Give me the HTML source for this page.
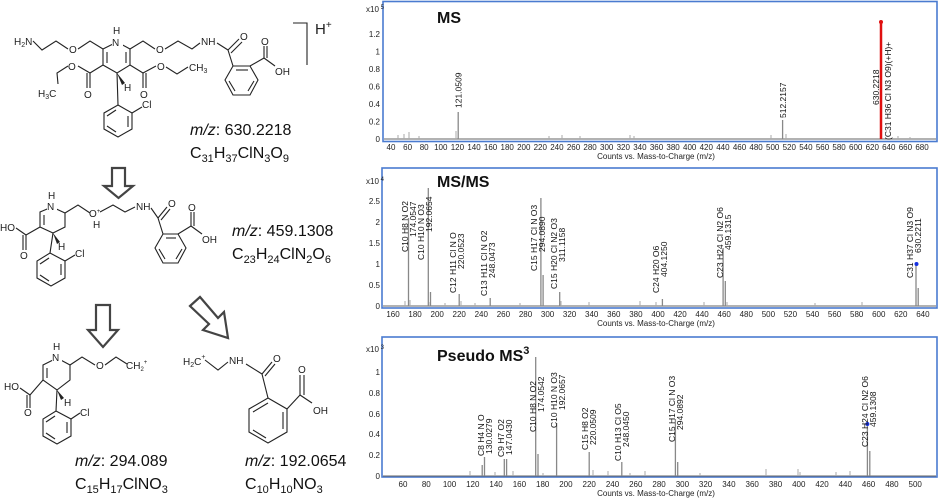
<!DOCTYPE html>
<html><head><meta charset="utf-8"><style>
html,body{margin:0;padding:0;background:#fff;}
svg{display:block;font-family:"Liberation Sans",Arial,sans-serif;}
.b{stroke:#222;stroke-width:1.1;fill:none;}
.at{font-size:10px;fill:#222;}
.tk{font-size:8px;fill:#222;text-anchor:middle;}
.yl{font-size:8px;fill:#222;text-anchor:end;}
.lb{font-size:8.5px;fill:#111;}
.pk{stroke:#888;stroke-width:1.3;}
.nz{stroke:#aaa;stroke-width:1;}
.bx{fill:none;stroke:#4a7bd0;stroke-width:1.6;}
.ar{fill:#fff;stroke:#444;stroke-width:2.2;}
</style></head><body>
<svg width="940" height="502" viewBox="0 0 940 502" xmlns="http://www.w3.org/2000/svg">

<!-- ===== Structure 1 ===== -->
<g>
<text class="at" x="14" y="45">H<tspan font-size="7" dy="2">2</tspan><tspan dy="-2">N</tspan></text>
<polyline class="b" points="33,41 42,50 56,41 68,49"/>
<text class="at" x="69" y="53">O</text>
<polyline class="b" points="78,49 90,41 103,49"/>
<polygon class="b" points="103,49 117,42 130,49 130,65 117,73 103,65"/>
<line class="b" x1="107" y1="52" x2="107" y2="63"/>
<line class="b" x1="126" y1="52" x2="126" y2="63"/>
<rect x="112" y="36" width="11" height="11" fill="#fff"/>
<text class="at" x="112" y="46">N</text>
<text class="at" x="113" y="34">H</text>
<polyline class="b" points="130,49 143,41 155,49"/>
<text class="at" x="156" y="53">O</text>
<polyline class="b" points="165,49 178,41 192,49 200,43"/>
<text class="at" x="201" y="45">NH</text>
<polyline class="b" points="217,43 228,50"/>
<line class="b" x1="228" y1="50" x2="239" y2="39"/><line class="b" x1="231" y1="53" x2="242" y2="42"/>
<text class="at" x="240" y="40">O</text>
<line class="b" x1="228" y1="50" x2="233" y2="66"/>
<polygon class="b" points="233,66 250,66 258,80 250,95 233,95 225,80"/>
<line class="b" x1="236" y1="70" x2="248" y2="70"/><line class="b" x1="229" y1="81" x2="235" y2="91"/><line class="b" x1="254" y1="81" x2="248" y2="91"/>
<line class="b" x1="250" y1="66" x2="264" y2="58"/>
<line class="b" x1="264" y1="58" x2="264" y2="46"/><line class="b" x1="267" y1="58" x2="267" y2="46"/>
<text class="at" x="261" y="45">O</text>
<line class="b" x1="264" y1="58" x2="275" y2="66"/>
<text class="at" x="275" y="75">OH</text>
<!-- esters -->
<polyline class="b" points="103,65 90,73"/>
<line class="b" x1="90" y1="73" x2="90" y2="88"/><line class="b" x1="87" y1="73" x2="87" y2="88"/>
<text class="at" x="84" y="98">O</text>
<polyline class="b" points="90,73 78,66"/>
<text class="at" x="68" y="70">O</text>
<polyline class="b" points="68,66 57,73 58,84"/>
<text class="at" x="38" y="97">H<tspan font-size="7" dy="2">3</tspan><tspan dy="-2">C</tspan></text>
<polyline class="b" points="130,65 143,73"/>
<line class="b" x1="143" y1="73" x2="143" y2="88"/><line class="b" x1="146" y1="73" x2="146" y2="88"/>
<text class="at" x="140" y="98">O</text>
<polyline class="b" points="143,73 156,66"/>
<text class="at" x="157" y="70">O</text>
<polyline class="b" points="166,67 177,74 188,67"/>
<text class="at" x="189" y="71">CH<tspan font-size="7" dy="2">3</tspan></text>
<polygon fill="#222" points="117,73 125,83 122,85"/>
<text class="at" x="124" y="91" font-size="8">H</text>
<line class="b" x1="117" y1="73" x2="118" y2="105"/>
<polygon class="b" points="118,105 132,113 132,129 118,137 104,129 104,113"/>
<line class="b" x1="128" y1="116" x2="128" y2="127"/><line class="b" x1="107" y1="116" x2="116" y2="110"/><line class="b" x1="107" y1="126" x2="116" y2="132"/>
<line class="b" x1="132" y1="113" x2="142" y2="107"/>
<text class="at" x="142" y="108">Cl</text>
<polyline class="b" points="293,23 307,23 307,65"/>
<text x="315" y="34" font-size="15" fill="#222">H<tspan font-size="10" dy="-6">+</tspan></text>
<text x="190" y="135" font-size="16" fill="#111"><tspan font-style="italic">m/z</tspan>: 630.2218</text>
<text x="190" y="158" font-size="16" fill="#111">C<tspan font-size="11" dy="4">31</tspan><tspan dy="-4">H</tspan><tspan font-size="11" dy="4">37</tspan><tspan dy="-4">ClN</tspan><tspan font-size="11" dy="4">3</tspan><tspan dy="-4">O</tspan><tspan font-size="11" dy="4">9</tspan></text>
</g>

<!-- arrow 1 -->
<polygon class="ar" points="112,168 125,168 125,186 133,186 118.5,198 104,186 112,186"/>

<!-- ===== Structure 2 ===== -->
<g>
<polygon class="b" points="40,212 52,207 65,213 65,227 53,233 40,227"/>
<line class="b" x1="44" y1="215" x2="44" y2="225"/>
<rect x="47" y="201" width="10" height="10" fill="#fff"/>
<text class="at" x="47" y="210" font-size="9">N</text>
<text class="at" x="48" y="199" font-size="8">H</text>
<line class="b" x1="40" y1="227" x2="26" y2="235"/>
<line class="b" x1="26" y1="235" x2="26" y2="250"/><line class="b" x1="23" y1="235" x2="23" y2="250"/>
<text class="at" x="20" y="259" font-size="8">O</text>
<line class="b" x1="26" y1="235" x2="16" y2="228"/>
<text class="at" x="0" y="231" font-size="8">HO</text>
<polygon fill="#222" points="53,233 60,242 57,244"/>
<text class="at" x="58" y="250" font-size="8">H</text>
<line class="b" x1="53" y1="233" x2="50" y2="253"/>
<polygon class="b" points="50,253 65,261 65,278 51,286 37,278 37,261"/>
<line class="b" x1="61" y1="264" x2="61" y2="275"/><line class="b" x1="40" y1="264" x2="49" y2="258"/><line class="b" x1="40" y1="275" x2="49" y2="281"/>
<line class="b" x1="65" y1="261" x2="75" y2="255"/>
<text class="at" x="75" y="257" font-size="8">Cl</text>
<polyline class="b" points="65,213 78,205 90,213"/>
<text class="at" x="89" y="217" font-size="9">O<tspan font-size="6" dy="-4">+</tspan></text>
<text class="at" x="93" y="228" font-size="8">H</text>
<polyline class="b" points="100,212 113,205 125,212 135,207"/>
<text class="at" x="136" y="210" font-size="9">NH</text>
<line class="b" x1="151" y1="208" x2="158" y2="218"/>
<line class="b" x1="158" y1="218" x2="167" y2="207"/><line class="b" x1="161" y1="220" x2="170" y2="209"/>
<text class="at" x="168" y="207" font-size="9">O</text>
<line class="b" x1="158" y1="218" x2="163" y2="234"/>
<polygon class="b" points="163,234 178,234 186,248 178,263 163,263 155,248"/>
<line class="b" x1="166" y1="238" x2="176" y2="238"/><line class="b" x1="159" y1="249" x2="165" y2="259"/><line class="b" x1="182" y1="249" x2="176" y2="259"/>
<line class="b" x1="178" y1="234" x2="191" y2="226"/>
<line class="b" x1="191" y1="226" x2="191" y2="212"/><line class="b" x1="194" y1="226" x2="194" y2="212"/>
<text class="at" x="188" y="211" font-size="9">O</text>
<line class="b" x1="191" y1="226" x2="202" y2="234"/>
<text class="at" x="202" y="243" font-size="9">OH</text>
<text x="232" y="236" font-size="16" fill="#111"><tspan font-style="italic">m/z</tspan>: 459.1308</text>
<text x="232" y="259" font-size="16" fill="#111">C<tspan font-size="11" dy="4">23</tspan><tspan dy="-4">H</tspan><tspan font-size="11" dy="4">24</tspan><tspan dy="-4">ClN</tspan><tspan font-size="11" dy="4">2</tspan><tspan dy="-4">O</tspan><tspan font-size="11" dy="4">6</tspan></text>
</g>

<!-- arrows 2 -->
<polygon class="ar" points="96,305 110,305 110,330 118,330 103,347 88,330 96,330"/>
<polygon class="ar" points="190,306 200,297 218,318 224,312 228,338 203,330 209,324"/>

<!-- ===== Structure 3 ===== -->
<g>
<polygon class="b" points="43,365 57,358 70,365 70,380 57,390 43,380"/>
<line class="b" x1="47" y1="368" x2="47" y2="378"/>
<rect x="52" y="352" width="10" height="10" fill="#fff"/>
<text class="at" x="52" y="361" font-size="9">N</text>
<text class="at" x="53" y="350" font-size="8">H</text>
<line class="b" x1="43" y1="380" x2="30" y2="395"/>
<line class="b" x1="30" y1="395" x2="30" y2="408"/><line class="b" x1="27" y1="395" x2="27" y2="408"/>
<text class="at" x="24" y="416" font-size="8">O</text>
<line class="b" x1="30" y1="395" x2="20" y2="388"/>
<text class="at" x="4" y="390" font-size="8">HO</text>
<polygon fill="#222" points="57,390 64,398 61,400"/>
<text class="at" x="64" y="406" font-size="8">H</text>
<line class="b" x1="57" y1="390" x2="56" y2="411"/>
<polygon class="b" points="56,411 71,419 71,436 57,444 43,436 43,419"/>
<line class="b" x1="67" y1="422" x2="67" y2="433"/><line class="b" x1="46" y1="422" x2="55" y2="416"/><line class="b" x1="46" y1="433" x2="55" y2="439"/>
<line class="b" x1="71" y1="419" x2="80" y2="413"/>
<text class="at" x="80" y="416" font-size="8">Cl</text>
<polyline class="b" points="70,365 82,357 95,365"/>
<text class="at" x="96" y="369" font-size="9">O</text>
<polyline class="b" points="105,365 116,357 127,364"/>
<text class="at" x="126" y="369" font-size="8">CH<tspan font-size="6" dy="2">2</tspan><tspan font-size="6" dy="-7">+</tspan></text>
<text x="75" y="466" font-size="16" fill="#111"><tspan font-style="italic">m/z</tspan>: 294.089</text>
<text x="75" y="489" font-size="16" fill="#111">C<tspan font-size="11" dy="4">15</tspan><tspan dy="-4">H</tspan><tspan font-size="11" dy="4">17</tspan><tspan dy="-4">ClNO</tspan><tspan font-size="11" dy="4">3</tspan></text>
</g>

<!-- ===== Structure 4 ===== -->
<g>
<text class="at" x="183" y="365">H<tspan font-size="7" dy="2">2</tspan><tspan dy="-2">C</tspan><tspan font-size="7" dy="-6">+</tspan></text>
<polyline class="b" points="205,360 218,370 228,362"/>
<text class="at" x="229" y="364">NH</text>
<line class="b" x1="246" y1="364" x2="262" y2="374"/>
<line class="b" x1="262" y1="374" x2="272" y2="362"/><line class="b" x1="265" y1="376" x2="275" y2="364"/>
<text class="at" x="273" y="362">O</text>
<line class="b" x1="262" y1="374" x2="268" y2="398"/>
<polygon class="b" points="268,398 287,409 287,432 268,443 249,432 249,409"/>
<line class="b" x1="253" y1="412" x2="268" y2="403"/><line class="b" x1="283" y1="412" x2="283" y2="429"/><line class="b" x1="266" y1="438" x2="253" y2="430"/>
<line class="b" x1="287" y1="409" x2="300" y2="395"/>
<line class="b" x1="300" y1="395" x2="300" y2="375"/><line class="b" x1="304" y1="395" x2="304" y2="375"/>
<text class="at" x="298" y="373">O</text>
<line class="b" x1="300" y1="395" x2="312" y2="403"/>
<text class="at" x="313" y="414" font-size="11">OH</text>
<text x="245" y="466" font-size="16" fill="#111"><tspan font-style="italic">m/z</tspan>: 192.0654</text>
<text x="245" y="489" font-size="16" fill="#111">C<tspan font-size="11" dy="4">10</tspan><tspan dy="-4">H</tspan><tspan font-size="11" dy="4">10</tspan><tspan dy="-4">NO</tspan><tspan font-size="11" dy="4">3</tspan></text>
</g>

<!-- ===== Panel 1: MS ===== -->
<g>
<rect class="bx" x="383" y="1.5" width="554" height="140"/>
<line x1="384" y1="139" x2="936" y2="139" stroke="#666" stroke-width="1"/>
<text x="366" y="12" font-size="8" fill="#222">x10<tspan font-size="6" dy="-3"> 5</tspan></text>
<text class="yl" x="380" y="142">0</text><text class="yl" x="380" y="124.5">0.2</text><text class="yl" x="380" y="107">0.4</text><text class="yl" x="380" y="89.5">0.6</text><text class="yl" x="380" y="72">0.8</text><text class="yl" x="380" y="54.5">1</text><text class="yl" x="380" y="37">1.2</text>
<g class="tk">
<text x="391" y="150">40</text><text x="407.6" y="150">60</text><text x="424.2" y="150">80</text><text x="440.8" y="150">100</text><text x="457.4" y="150">120</text><text x="474" y="150">140</text><text x="490.6" y="150">160</text><text x="507.2" y="150">180</text><text x="523.8" y="150">200</text><text x="540.3" y="150">220</text><text x="556.9" y="150">240</text><text x="573.5" y="150">260</text><text x="590.1" y="150">280</text><text x="606.7" y="150">300</text><text x="623.3" y="150">320</text><text x="639.9" y="150">340</text><text x="656.5" y="150">360</text><text x="673.1" y="150">380</text><text x="689.7" y="150">400</text><text x="706.3" y="150">420</text><text x="722.9" y="150">440</text><text x="739.5" y="150">460</text><text x="756.1" y="150">480</text><text x="772.7" y="150">500</text><text x="789.3" y="150">520</text><text x="805.9" y="150">540</text><text x="822.5" y="150">560</text><text x="839.1" y="150">580</text><text x="855.7" y="150">600</text><text x="872.3" y="150">620</text><text x="888.8" y="150">640</text><text x="905.4" y="150">660</text><text x="922" y="150">680</text>
<text x="656" y="159">Counts vs. Mass-to-Charge (m/z)</text>
</g>
<text x="437" y="23" font-size="16" font-weight="bold" fill="#111">MS</text>
<g class="nz"><line x1="398" y1="139" x2="398" y2="135"/><line x1="404" y1="139" x2="404" y2="134"/><line x1="409" y1="139" x2="409" y2="132"/><line x1="419" y1="139" x2="419" y2="136"/><line x1="456" y1="139" x2="456" y2="131"/><line x1="549" y1="139" x2="549" y2="136"/><line x1="562" y1="139" x2="562" y2="135"/><line x1="580" y1="139" x2="580" y2="136"/><line x1="630" y1="139" x2="630" y2="135"/><line x1="634" y1="139" x2="634" y2="136"/><line x1="771" y1="139" x2="771" y2="135"/><line x1="786" y1="139" x2="786" y2="134"/><line x1="898" y1="139" x2="898" y2="136"/><line x1="910" y1="139" x2="910" y2="137"/></g>
<line class="pk" x1="458.2" y1="139" x2="458.2" y2="112"/>
<line class="pk" x1="782.6" y1="139" x2="782.6" y2="120"/>
<line x1="881" y1="139" x2="881" y2="22" stroke="#e01010" stroke-width="2.5"/>
<circle cx="881" cy="22" r="2" fill="#e01010"/>
<text class="lb" transform="translate(461.5,108) rotate(-90)">121.0509</text>
<text class="lb" transform="translate(786,118) rotate(-90)">512.2157</text>
<text class="lb" transform="translate(879,105) rotate(-90)">630.2218</text>
<text class="lb" transform="translate(891,140) rotate(-90)">(C31 H36 Cl N3 O9)(+H)+</text>
</g>

<!-- ===== Panel 2: MS/MS ===== -->
<g>
<rect class="bx" x="382" y="168" width="555" height="140"/>
<line x1="383" y1="306" x2="936" y2="306" stroke="#666" stroke-width="1"/>
<text x="366" y="184" font-size="8" fill="#222">x10<tspan font-size="6" dy="-3"> 4</tspan></text>
<text class="yl" x="380" y="309">0</text><text class="yl" x="380" y="288">0.5</text><text class="yl" x="380" y="267">1</text><text class="yl" x="380" y="246">1.5</text><text class="yl" x="380" y="225">2</text><text class="yl" x="380" y="204">2.5</text>
<g class="tk">
<text x="393" y="317">160</text><text x="415.1" y="317">180</text><text x="437.2" y="317">200</text><text x="459.2" y="317">220</text><text x="481.3" y="317">240</text><text x="503.4" y="317">260</text><text x="525.5" y="317">280</text><text x="547.6" y="317">300</text><text x="569.6" y="317">320</text><text x="591.7" y="317">340</text><text x="613.8" y="317">360</text><text x="635.9" y="317">380</text><text x="658" y="317">400</text><text x="680" y="317">420</text><text x="702.1" y="317">440</text><text x="724.2" y="317">460</text><text x="746.3" y="317">480</text><text x="768.4" y="317">500</text><text x="790.4" y="317">520</text><text x="812.5" y="317">540</text><text x="834.6" y="317">560</text><text x="856.7" y="317">580</text><text x="878.8" y="317">600</text><text x="900.8" y="317">620</text><text x="922.9" y="317">640</text>
<text x="656" y="326">Counts vs. Mass-to-Charge (m/z)</text>
</g>
<text x="437" y="187" font-size="16" font-weight="bold" fill="#111">MS/MS</text>
<g class="nz"><line x1="405" y1="306" x2="405" y2="301"/><line x1="410" y1="306" x2="410" y2="300"/><line x1="430" y1="306" x2="430" y2="302"/><line x1="445" y1="306" x2="445" y2="303"/><line x1="461" y1="306" x2="461" y2="301"/><line x1="475" y1="306" x2="475" y2="303"/><line x1="520" y1="306" x2="520" y2="303"/><line x1="561" y1="306" x2="561" y2="301"/><line x1="589" y1="306" x2="589" y2="302"/><line x1="640" y1="306" x2="640" y2="301"/><line x1="656" y1="306" x2="656" y2="302"/><line x1="704" y1="306" x2="704" y2="302"/><line x1="727" y1="306" x2="727" y2="302"/><line x1="815" y1="306" x2="815" y2="303"/><line x1="862" y1="306" x2="862" y2="302"/></g>
<g class="pk">
<line x1="408.5" y1="306" x2="408.5" y2="218"/><line x1="428.3" y1="306" x2="428.3" y2="188"/><line x1="430.5" y1="306" x2="430.5" y2="292"/><line x1="459.2" y1="306" x2="459.2" y2="294"/><line x1="490.2" y1="306" x2="490.2" y2="298"/><line x1="540.9" y1="306" x2="540.9" y2="198"/><line x1="543.1" y1="306" x2="543.1" y2="275"/><line x1="559.7" y1="306" x2="559.7" y2="292"/><line x1="662.4" y1="306" x2="662.4" y2="299"/><line x1="723.1" y1="306" x2="723.1" y2="248"/><line x1="725.3" y1="306" x2="725.3" y2="281"/><line x1="916" y1="306" x2="916" y2="265"/><line x1="918.2" y1="306" x2="918.2" y2="288"/>
</g>
<circle cx="916.5" cy="264" r="2" fill="#1530e0"/>
<text class="lb" transform="translate(408,252) rotate(-90)">C10 H8 N O2</text>
<text class="lb" transform="translate(416,237) rotate(-90)">174.0547</text>
<text class="lb" transform="translate(424,260) rotate(-90)">C10 H10 N O3</text>
<text class="lb" transform="translate(432,232) rotate(-90)">192.0654</text>
<text class="lb" transform="translate(456,293) rotate(-90)">C12 H11 Cl N O</text>
<text class="lb" transform="translate(464,269) rotate(-90)">220.0523</text>
<text class="lb" transform="translate(487,296) rotate(-90)">C13 H11 Cl N O2</text>
<text class="lb" transform="translate(495,278) rotate(-90)">248.0473</text>
<text class="lb" transform="translate(537,271) rotate(-90)">C15 H17 Cl N O3</text>
<text class="lb" transform="translate(545,252) rotate(-90)">294.0890</text>
<text class="lb" transform="translate(557,289) rotate(-90)">C15 H20 Cl N2 O3</text>
<text class="lb" transform="translate(565,262) rotate(-90)">311.1158</text>
<text class="lb" transform="translate(659,293) rotate(-90)">C24 H20 O6</text>
<text class="lb" transform="translate(667,277) rotate(-90)">404.1250</text>
<text class="lb" transform="translate(723,278) rotate(-90)">C23 H24 Cl N2 O6</text>
<text class="lb" transform="translate(731,250) rotate(-90)">459.1315</text>
<text class="lb" transform="translate(913,278) rotate(-90)">C31 H37 Cl N3 O9</text>
<text class="lb" transform="translate(921,253) rotate(-90)">630.2211</text>
</g>

<!-- ===== Panel 3: Pseudo MS3 ===== -->
<g>
<rect class="bx" x="382" y="337" width="555" height="140"/>
<line x1="383" y1="476" x2="936" y2="476" stroke="#666" stroke-width="1"/>
<text x="366" y="352" font-size="8" fill="#222">x10<tspan font-size="6" dy="-3"> 3</tspan></text>
<text class="yl" x="380" y="479">0</text><text class="yl" x="380" y="458">0.2</text><text class="yl" x="380" y="437">0.4</text><text class="yl" x="380" y="417">0.6</text><text class="yl" x="380" y="396">0.8</text><text class="yl" x="380" y="375">1</text>
<g class="tk">
<text x="403" y="487">60</text><text x="426.3" y="487">80</text><text x="449.5" y="487">100</text><text x="472.8" y="487">120</text><text x="496.1" y="487">140</text><text x="519.4" y="487">160</text><text x="542.7" y="487">180</text><text x="565.9" y="487">200</text><text x="589.2" y="487">220</text><text x="612.5" y="487">240</text><text x="635.8" y="487">260</text><text x="659.1" y="487">280</text><text x="682.4" y="487">300</text><text x="705.6" y="487">320</text><text x="728.9" y="487">340</text><text x="752.2" y="487">360</text><text x="775.5" y="487">380</text><text x="798.8" y="487">400</text><text x="822" y="487">420</text><text x="845.3" y="487">440</text><text x="868.6" y="487">460</text><text x="891.9" y="487">480</text><text x="915.2" y="487">500</text>
<text x="656" y="496">Counts vs. Mass-to-Charge (m/z)</text>
</g>
<text x="437" y="361" font-size="16" font-weight="bold" fill="#111">Pseudo MS<tspan font-size="11" dy="-7">3</tspan></text>
<g class="nz"><line x1="470" y1="476" x2="470" y2="471"/><line x1="495" y1="476" x2="495" y2="472"/><line x1="513" y1="476" x2="513" y2="471"/><line x1="543" y1="476" x2="543" y2="473"/><line x1="593" y1="476" x2="593" y2="470"/><line x1="608" y1="476" x2="608" y2="471"/><line x1="630" y1="476" x2="630" y2="473"/><line x1="645" y1="476" x2="645" y2="471"/><line x1="700" y1="476" x2="700" y2="473"/><line x1="766" y1="476" x2="766" y2="469"/><line x1="798" y1="476" x2="798" y2="469"/><line x1="800" y1="476" x2="800" y2="472"/><line x1="836" y1="476" x2="836" y2="472"/><line x1="850" y1="476" x2="850" y2="471"/></g>
<g class="pk">
<line x1="482.2" y1="476" x2="482.2" y2="465"/><line x1="484.5" y1="476" x2="484.5" y2="457"/><line x1="504.3" y1="476" x2="504.3" y2="459"/><line x1="506.6" y1="476" x2="506.6" y2="459"/><line x1="535.7" y1="476" x2="535.7" y2="357"/><line x1="538" y1="476" x2="538" y2="454"/><line x1="556.6" y1="476" x2="556.6" y2="423"/><line x1="589.2" y1="476" x2="589.2" y2="452"/><line x1="621.8" y1="476" x2="621.8" y2="462"/><line x1="675.4" y1="476" x2="675.4" y2="419"/><line x1="677.7" y1="476" x2="677.7" y2="462"/><line x1="867.4" y1="476" x2="867.4" y2="425"/><line x1="869.8" y1="476" x2="869.8" y2="451"/>
</g>
<circle cx="867.4" cy="424" r="2" fill="#1530e0"/>
<text class="lb" transform="translate(484,456) rotate(-90)">C8 H4 N O</text>
<text class="lb" transform="translate(492,454) rotate(-90)">130.0279</text>
<text class="lb" transform="translate(504,457) rotate(-90)">C9 H7 O2</text>
<text class="lb" transform="translate(512,455) rotate(-90)">147.0430</text>
<text class="lb" transform="translate(536,432) rotate(-90)">C10 H8 N O2</text>
<text class="lb" transform="translate(544,412) rotate(-90)">174.0542</text>
<text class="lb" transform="translate(557,428) rotate(-90)">C10 H10 N O3</text>
<text class="lb" transform="translate(565,410) rotate(-90)">192.0657</text>
<text class="lb" transform="translate(588,450) rotate(-90)">C15 H8 O2</text>
<text class="lb" transform="translate(596,445) rotate(-90)">220.0509</text>
<text class="lb" transform="translate(621,461) rotate(-90)">C10 H13 Cl O5</text>
<text class="lb" transform="translate(629,447) rotate(-90)">248.0450</text>
<text class="lb" transform="translate(675,442) rotate(-90)">C15 H17 Cl N O3</text>
<text class="lb" transform="translate(683,430) rotate(-90)">294.0892</text>
<text class="lb" transform="translate(868,447) rotate(-90)">C23 H24 Cl N2 O6</text>
<text class="lb" transform="translate(876,427) rotate(-90)">459.1308</text>
</g>
</svg>
</body></html>
